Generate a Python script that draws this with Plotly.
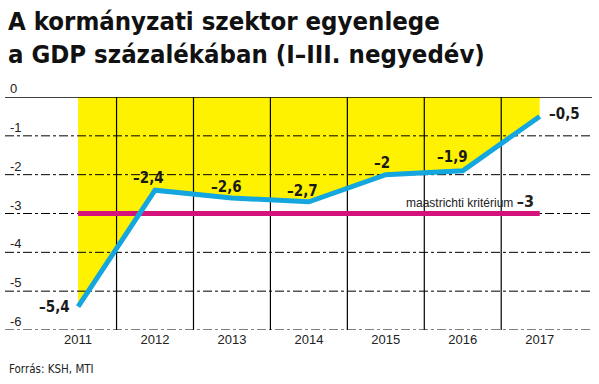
import plotly.graph_objects as go

# ---- data ----
years = [2011, 2012, 2013, 2014, 2015, 2016, 2017]
balance = [-5.4, -2.4, -2.6, -2.7, -2.0, -1.9, -0.5]
criterion_value = -3
criterion_label = "maastrichti kritérium"
y_ticks = [0, -1, -2, -3, -4, -5, -6]
y_tick_labels = ["0", "-1", "-2", "-3", "-4", "-5", "-6"]
title_text = "A kormányzati szektor egyenlege<br>a GDP százalékában (I–III. negyedév)"
source_text = "Forrás: KSH, MTI"

# ---- styling ----
COND = "DejaVu Sans Condensed, Liberation Sans Narrow, sans-serif"
REG = "Liberation Sans, Arial, sans-serif"
YELLOW = "#fff200"
BLUE = "#14a6de"
MAGENTA = "#d5127b"
XR = [2010.05, 2017.68]
YR = [-6, 0]
L, R, T, B = 5, 7, 97, 54
PW, PH = 599 - L - R, 384 - T - B
# label offsets (px) per point: (xshift, yshift, xanchor)
label_pos = [(-6, 0, "right"), (-7, 12, "center"), (-5, 11, "center"),
             (-6, 11, "center"), (-4, 12, "center"), (-10, 14, "center"), (7, 2, "left")]


def fmt(v):
    s = f"{abs(v):.1f}".replace(".", ",")
    if s.endswith(",0"):
        s = s[:-2]
    return ("–" if v < 0 else "") + s


def px_x(p):
    return (p - L) / PW


def px_y(p):
    return (384 - B - p) / PH


fig = go.Figure()

# yellow area between 0 and the line
fig.add_trace(go.Scatter(x=years, y=balance, mode="lines", line=dict(width=0, color=YELLOW),
                         fill="tozeroy", fillcolor=YELLOW, hoverinfo="skip", showlegend=False))

# horizontal grid lines (dash-dot), drawn above the yellow area
gx, gy = [], []
for t in y_ticks[1:]:
    gx += [XR[0], XR[1], None]
    gy += [t, t, None]
fig.add_trace(go.Scatter(x=gx, y=gy, mode="lines", line=dict(color="black", width=1, dash="dashdot"),
                         hoverinfo="skip", showlegend=False))
# solid zero line
fig.add_trace(go.Scatter(x=XR, y=[0, 0], mode="lines", line=dict(color="black", width=1.5),
                         hoverinfo="skip", showlegend=False))
# vertical separators between years
vx, vy = [], []
for a, b in zip(years[:-1], years[1:]):
    m = (a + b) / 2
    vx += [m, m, None]
    vy += [YR[1], YR[0], None]
fig.add_trace(go.Scatter(x=vx, y=vy, mode="lines", line=dict(color="black", width=1.2),
                         hoverinfo="skip", showlegend=False))

# Maastricht criterion line
fig.add_trace(go.Scatter(x=[years[0], years[-1]], y=[criterion_value, criterion_value], mode="lines",
                         line=dict(color=MAGENTA, width=5), hoverinfo="skip", showlegend=False))

# balance line
fig.add_trace(go.Scatter(x=years, y=balance, mode="lines", line=dict(color=BLUE, width=5),
                         showlegend=False))

annotations = []
for (x, v), (xs, ys, xa) in zip(zip(years, balance), label_pos):
    annotations.append(dict(x=x, y=v, xref="x", yref="y", text=f"<b>{fmt(v)}</b>", showarrow=False,
                            xshift=xs, yshift=ys, xanchor=xa, yanchor="middle",
                            font=dict(family=COND, size=15, color="#1a1a1a")))

# y tick labels above the grid lines
for t, lab in zip(y_ticks, y_tick_labels):
    annotations.append(dict(x=px_x(8), xref="paper", y=t, yref="y", text=lab, showarrow=False,
                            xanchor="left", yanchor="bottom", yshift=-1,
                            font=dict(family=REG, size=13, color="#222")))

# criterion label
annotations.append(dict(x=years[-1], y=criterion_value, xref="x", yref="y",
                        text=f"{criterion_label} <b><span style='font-family:DejaVu Sans Condensed;font-size:16px'>{fmt(criterion_value)}</span></b>",
                        showarrow=False, xanchor="right", yanchor="bottom", xshift=-4, yshift=1,
                        font=dict(family=REG, size=12, color="#222")))

# title
annotations.append(dict(x=px_x(6), xref="paper", y=px_y(4), yref="paper", text=f"<b>{title_text}</b>",
                        showarrow=False, xanchor="left", yanchor="top", align="left",
                        font=dict(family=COND, size=25.5, color="#111")))

# source
annotations.append(dict(x=px_x(7), xref="paper", y=px_y(360), yref="paper", text=source_text,
                        showarrow=False, xanchor="left", yanchor="top",
                        font=dict(family=COND, size=11.5, color="#222")))

fig.update_layout(
    width=599, height=384,
    margin=dict(l=L, r=R, t=T, b=B),
    paper_bgcolor="white", plot_bgcolor="white",
    xaxis=dict(range=XR, tickvals=years, ticktext=[str(y) for y in years], showgrid=False,
               zeroline=False, showline=False, ticks="", automargin=False,
               tickfont=dict(family=REG, size=13, color="#222"), fixedrange=True),
    yaxis=dict(range=YR, showgrid=False, zeroline=False, showticklabels=False, ticks="",
               automargin=False, fixedrange=True),
    annotations=annotations,
    showlegend=False,
)

fig.write_html("out.html", config={"displayModeBar": False},
               post_script="document.body.style.margin='0';")
